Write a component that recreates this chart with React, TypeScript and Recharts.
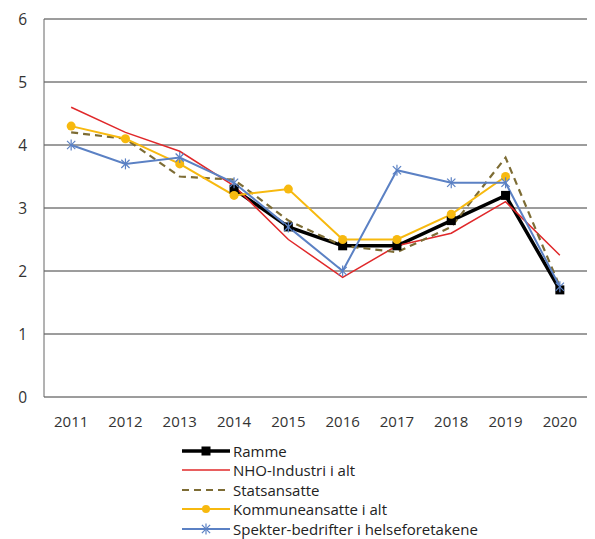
import React from "react";
import { LineChart, Line, XAxis, YAxis, CartesianGrid } from "recharts";

const YEARS = [2011, 2012, 2013, 2014, 2015, 2016, 2017, 2018, 2019, 2020];
const RAMME = [null, null, null, 3.3, 2.7, 2.4, 2.4, 2.8, 3.2, 1.7];
const NHO = [4.6, 4.2, 3.9, 3.35, 2.5, 1.9, 2.4, 2.6, 3.1, 2.25];
const STAT = [4.2, 4.1, 3.5, 3.45, 2.8, 2.4, 2.3, 2.7, 3.8, 1.75];
const KOMMUNE = [4.3, 4.1, 3.7, 3.2, 3.3, 2.5, 2.5, 2.9, 3.5, null];
const SPEKTER = [4.0, 3.7, 3.8, 3.4, 2.7, 2.0, 3.6, 3.4, 3.4, 1.75];
const Y_TICKS = [0, 1, 2, 3, 4, 5, 6];
const BOUNDS = [2010.5, 2011.5, 2012.5, 2013.5, 2014.5, 2015.5, 2016.5, 2017.5, 2018.5, 2019.5, 2020.5];

const data = YEARS.map((year, i) => ({
  year,
  ramme: RAMME[i],
  nho: NHO[i],
  stat: STAT[i],
  kommune: KOMMUNE[i],
  spekter: SPEKTER[i],
}));

const FONT = "'Open Sans', sans-serif";
const TEXT = "#333333";
const C = {
  ramme: "#000000",
  nho: "#e0282a",
  stat: "#7d6c34",
  kommune: "#f7b90f",
  spekter: "#5b81c4",
};

// eslint-disable-next-line @typescript-eslint/no-explicit-any
function SquareDot({ cx, cy, value }: any) {
  if (value == null || cx == null) return null;
  return <rect x={cx - 4.5} y={cy - 4.5} width={9} height={9} fill="#000" />;
}

// eslint-disable-next-line @typescript-eslint/no-explicit-any
function Star({ cx, cy, value }: any) {
  if (value == null || cx == null) return null;
  const r = 5.5;
  const d = r * 0.75;
  return (
    <g stroke={C.spekter} strokeWidth={1.2}>
      <line x1={cx} y1={cy - r} x2={cx} y2={cy + r} />
      <line x1={cx - d} y1={cy - d} x2={cx + d} y2={cy + d} />
      <line x1={cx - d} y1={cy + d} x2={cx + d} y2={cy - d} />
    </g>
  );
}

function LegendIcon({ kind }: { kind: string }) {
  return (
    <svg width={48} height={12} style={{ display: "block" }}>
      {kind === "ramme" && (
        <g>
          <line x1={0} y1={6} x2={48} y2={6} stroke="#000" strokeWidth={3.5} />
          <rect x={19.5} y={1.5} width={9} height={9} fill="#000" />
        </g>
      )}
      {kind === "nho" && <line x1={0} y1={6} x2={48} y2={6} stroke={C.nho} strokeWidth={1.5} />}
      {kind === "stat" && (
        <line x1={0} y1={6} x2={48} y2={6} stroke={C.stat} strokeWidth={2} strokeDasharray="7 5" />
      )}
      {kind === "kommune" && (
        <g>
          <line x1={0} y1={6} x2={48} y2={6} stroke={C.kommune} strokeWidth={2} />
          <circle cx={24} cy={6} r={4} fill={C.kommune} />
        </g>
      )}
      {kind === "spekter" && (
        <g>
          <line x1={0} y1={6} x2={48} y2={6} stroke={C.spekter} strokeWidth={2} />
          <Star cx={24} cy={6} value={1} />
        </g>
      )}
    </svg>
  );
}

const LEGEND = [
  { key: "ramme", label: "Ramme" },
  { key: "nho", label: "NHO-Industri i alt" },
  { key: "stat", label: "Statsansatte" },
  { key: "kommune", label: "Kommuneansatte i alt" },
  { key: "spekter", label: "Spekter-bedrifter i helseforetakene" },
];

export default function App() {
  return (
    <div style={{ position: "absolute", left: 0, top: 0, width: 595, height: 539, background: "#fff", fontFamily: FONT }}>
      <LineChart width={595} height={539} data={data} margin={{ top: 19, right: 8, left: 0, bottom: 112 }}>
        <CartesianGrid vertical={false} stroke="#3a3a3a" strokeWidth={1} />
        <XAxis
          xAxisId="marks"
          type="number"
          dataKey="year"
          domain={[2010.5, 2020.5]}
          ticks={BOUNDS}
          tickFormatter={() => ""}
          height={0}
          mirror
          tickSize={5}
          axisLine={{ stroke: "#666" }}
          tickLine={{ stroke: "#444" }}
        />
        <XAxis
          xAxisId="labels"
          type="number"
          dataKey="year"
          domain={[2010.5, 2020.5]}
          ticks={YEARS}
          interval={0}
          height={30}
          axisLine={false}
          tickLine={false}
          tickSize={0}
          tickMargin={19}
          tick={{ fontSize: 15, fill: TEXT, fontFamily: FONT }}
        />
        <YAxis
          domain={[0, 6]}
          ticks={Y_TICKS}
          width={44}
          tickSize={0}
          tickMargin={17}
          axisLine={{ stroke: "#666" }}
          tickLine={false}
          tick={{ fontSize: 15.5, fill: TEXT, fontFamily: FONT }}
        />
        <Line
          xAxisId="labels"
          dataKey="ramme"
          stroke={C.ramme}
          strokeWidth={3.5}
          dot={<SquareDot />}
          activeDot={false}
          isAnimationActive={false}
        />
        <Line
          xAxisId="labels"
          dataKey="nho"
          stroke={C.nho}
          strokeWidth={1.5}
          dot={false}
          activeDot={false}
          isAnimationActive={false}
        />
        <Line
          xAxisId="labels"
          dataKey="stat"
          stroke={C.stat}
          strokeWidth={2.2}
          strokeDasharray="7 5"
          dot={false}
          activeDot={false}
          isAnimationActive={false}
        />
        <Line
          xAxisId="labels"
          dataKey="kommune"
          stroke={C.kommune}
          strokeWidth={2}
          dot={{ r: 4.5, fill: C.kommune, stroke: C.kommune, strokeWidth: 0 }}
          activeDot={false}
          isAnimationActive={false}
        />
        <Line
          xAxisId="labels"
          dataKey="spekter"
          stroke={C.spekter}
          strokeWidth={2}
          dot={<Star />}
          activeDot={false}
          isAnimationActive={false}
        />
      </LineChart>
      <div style={{ position: "absolute", left: 182, top: 441 }}>
        {LEGEND.map((l) => (
          <div key={l.key} style={{ display: "flex", alignItems: "center", height: 19.5 }}>
            <LegendIcon kind={l.key} />
            <span style={{ marginLeft: 3, fontSize: 15, color: "#222", lineHeight: "18px" }}>{l.label}</span>
          </div>
        ))}
      </div>
    </div>
  );
}
